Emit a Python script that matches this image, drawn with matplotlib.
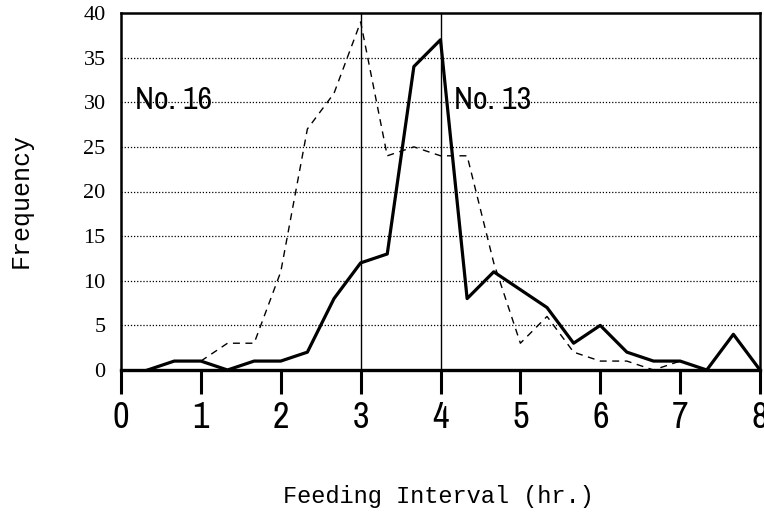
import matplotlib
matplotlib.use("Agg")
import matplotlib.pyplot as plt
from matplotlib import font_manager

# intervalos de 1/3 hr
horas_13 = [1/3, 2/3, 1, 4/3, 5/3, 2, 7/3, 8/3, 3, 10/3, 11/3, 4, 13/3,
            14/3, 5, 16/3, 17/3, 6, 19/3, 20/3, 7, 22/3, 23/3, 8]
frec_13 = [0, 1, 1, 0, 1, 1, 2, 8, 12, 13, 34, 37, 8,
           11, 9, 7, 3, 5, 2, 1, 1, 0, 4, 0]

horas_16 = [1, 4/3, 5/3, 2, 7/3, 8/3, 3, 10/3, 11/3, 4, 13/3,
            14/3, 5, 16/3, 17/3, 6, 19/3, 20/3, 7, 22/3]
frec_16 = [1, 3, 3, 11, 27, 31, 39, 24, 25, 24, 24,
           12, 3, 6, 2, 1, 1, 0, 1, 0]

x_ticks = [0, 1, 2, 3, 4, 5, 6, 7, 8]
y_ticks = [0, 5, 10, 15, 20, 25, 30, 35, 40]
grid_y = [5, 10, 15, 20, 25, 30, 35]
lineas_v = [3, 4]


def buscar_fuente_estrecha():
    candidatas = []
    for f in font_manager.fontManager.ttflist:
        nombre = f.name.lower()
        estrecha = ("narrow" in nombre or "condensed" in nombre
                    or str(f.stretch) in ("condensed", "semi-condensed", "extra-condensed")
                    or (isinstance(f.stretch, int) and f.stretch < 500))
        if estrecha and f.style == "normal":
            candidatas.append(f)
    if not candidatas:
        return None
    candidatas.sort(key=lambda f: (f.weight not in (400, "normal", "regular"), f.name))
    return font_manager.FontProperties(fname=candidatas[0].fname)


fp_estrecha = buscar_fuente_estrecha()
if fp_estrecha is None:
    fp_estrecha = font_manager.FontProperties(family="DejaVu Sans")

fig = plt.figure(figsize=(7.64, 5.19), dpi=100)
ax = fig.add_axes([121 / 764, 1 - 370 / 519, (760 - 121) / 764, (370 - 13) / 519])

for y in grid_y:
    ax.axhline(y, color="black", linestyle=(0, (1, 1.5)), linewidth=0.9, zorder=1)
for x in lineas_v:
    ax.axvline(x, color="black", linewidth=1.0, zorder=2)

ax.plot(horas_16, frec_16, color="black", linewidth=1.0,
        linestyle=(0, (5, 4)), zorder=3)
ax.plot(horas_13, frec_13, color="black", linewidth=2.3, zorder=4)

ax.set_xlim(0, 8)
ax.set_ylim(0, 40)
ax.set_xticks(x_ticks)
ax.set_yticks(y_ticks)

fp_ticks_x = fp_estrecha.copy()
fp_ticks_x.set_size(26)
ax.set_xticklabels([str(v) for v in x_ticks], fontproperties=fp_ticks_x)
ax.set_yticklabels([str(v) for v in y_ticks], fontfamily="Liberation Serif", fontsize=16)
ax.tick_params(axis="x", direction="out", length=17, width=2.2, pad=5)
ax.tick_params(axis="y", length=0, pad=11)

for lado in ["left", "right", "top"]:
    ax.spines[lado].set_linewidth(1.8)
ax.spines["bottom"].set_linewidth(2.4)

fp_notas = fp_estrecha.copy()
fp_notas.set_size(23)
ax.text(0.18, 30.3, "No. 16", fontproperties=fp_notas, va="center", ha="left")
ax.text(4.17, 30.3, "No. 13", fontproperties=fp_notas, va="center", ha="left")

fig.text(438 / 764, 1 - 497 / 519, "Feeding Interval (hr.)",
         fontfamily="Liberation Mono", fontsize=17, ha="center", va="center")
fig.text(21 / 764, 1 - 200 / 519, "Frequency", rotation=90,
         fontfamily="Liberation Mono", fontsize=18, ha="center", va="center")

fig.savefig("out.png", dpi=100)
